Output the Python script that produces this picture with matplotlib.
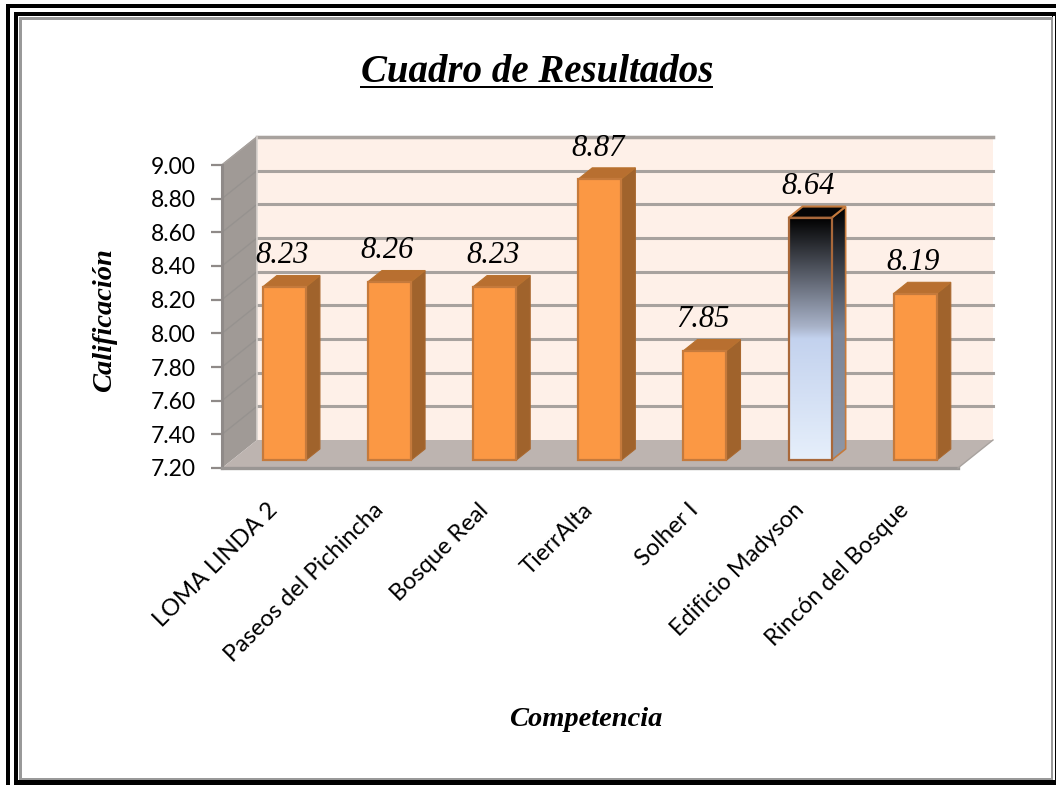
import numpy as np
import matplotlib
matplotlib.use('Agg')
import matplotlib.pyplot as plt
from matplotlib.patches import Polygon, Rectangle
from matplotlib.colors import LinearSegmentedColormap
from matplotlib.transforms import Affine2D

# Data
categories = ['LOMA LINDA 2', 'Paseos del Pichincha', 'Bosque Real', 'TierrAlta',
              'Solher I', 'Edificio Madyson', 'Rincón del Bosque']
values = [8.23, 8.26, 8.23, 8.87, 7.85, 8.64, 8.19]
value_labels = ['8.23', '8.26', '8.23', '8.87', '7.85', '8.64', '8.19']
y_ticks = [7.2, 7.4, 7.6, 7.8, 8.0, 8.2, 8.4, 8.6, 8.8, 9.0]
title = 'Cuadro de Resultados'
x_title = 'Competencia'
y_title = 'Calificación'

W, H = 1056, 785
script_font = dict(family='Liberation Serif', style='italic', weight='bold')

fig = plt.figure(figsize=(W / 100, H / 100), dpi=100, facecolor='white')
ax = fig.add_axes([222 / W, (H - 468) / H, 736 / W, 303 / H])
ax.set_xlim(-0.5, 6.5)
ax.set_ylim(7.2, 9.0)
ax.patch.set_visible(False)
for s in ax.spines.values():
    s.set_visible(False)

# depth of the fake 3d box, in data units
dx = 35 / (736 / 7)
dy = 28 / (303 / 1.8)
xmin, xmax = -0.5, 6.5
ymin, ymax = 7.2, 9.0


def poly(pts, color, z, edge='none', lw=0):
    ax.add_patch(Polygon(pts, closed=True, facecolor=color, edgecolor=edge,
                         linewidth=lw, zorder=z, clip_on=False))


# back wall, side wall, floor
poly([(xmin + dx, ymin + dy), (xmax + dx, ymin + dy), (xmax + dx, ymax + dy), (xmin + dx, ymax + dy)], '#fef0e8', 1)
poly([(xmin, ymin), (xmin + dx, ymin + dy), (xmin + dx, ymax + dy), (xmin, ymax)], '#a09a96', 1)
poly([(xmin, ymin), (xmax, ymin), (xmax + dx, ymin + dy), (xmin + dx, ymin + dy)], '#bdb4b0', 2)

# grid lines
for t in y_ticks[1:]:
    ax.plot([xmin + dx, xmax + dx], [t + dy, t + dy], color='#a8a29e', lw=2.2, zorder=1.5, clip_on=False)
    ax.plot([xmin, xmin + dx], [t, t + dy], color='#96928f', lw=1.0, zorder=1.5, clip_on=False)
ax.plot([xmin + dx, xmax + dx], [ymax + dy, ymax + dy], color='#a8a29e', lw=2.5, zorder=1.5, clip_on=False)
ax.plot([xmin, xmin + dx], [ymax, ymax + dy], color='#a8a29e', lw=1.2, zorder=1.5, clip_on=False)
ax.plot([xmin + dx, xmin + dx], [ymin + dy, ymax + dy], color='#d8d2ce', lw=1.2, zorder=1.5, clip_on=False)
ax.plot([xmin, xmin], [ymin, ymax], color='#8f8a88', lw=2.2, zorder=3, clip_on=False)
ax.plot([xmin, xmax], [ymin, ymin], color='#9a9694', lw=2.4, zorder=3, clip_on=False)
ax.plot([xmax, xmax + dx], [ymin, ymin + dy], color='#a8a29e', lw=1.0, zorder=3, clip_on=False)

# bars
x = np.arange(len(categories))
bar_w = 0.41
d0, d1 = 0.28, 0.68
front = Affine2D().translate(d0 * dx, d0 * dy) + ax.transData
edge = '#c57a3c'
grad_front = LinearSegmentedColormap.from_list('gf', [(0, '#000000'), (0.45, '#a8b2c8'), (0.5, '#c3d2ee'), (1, '#e6effb')])
grad_side = LinearSegmentedColormap.from_list('gs', [(0, '#000000'), (0.5, '#7b8598'), (1, '#8f97a6')])
ramp = np.linspace(0, 1, 256).reshape(-1, 1)

for i, v in enumerate(values):
    l = x[i] - bar_w / 2 + d0 * dx
    r = x[i] + bar_w / 2 + d0 * dx
    b = ymin + d0 * dy
    t = v + d0 * dy
    ddx = (d1 - d0) * dx
    ddy = (d1 - d0) * dy
    side = [(r, b), (r + ddx, b + ddy), (r + ddx, t + ddy), (r, t)]
    top = [(l, t), (r, t), (r + ddx, t + ddy), (l + ddx, t + ddy)]
    if i == 5:
        poly(side, 'none', 4, edge, 1.2)
        im = ax.imshow(ramp, cmap=grad_side, aspect='auto', extent=(r, r + ddx, b, t + ddy), zorder=3.5)
        im.set_clip_path(Polygon(side, transform=ax.transData))
        poly(top, '#050505', 4, edge, 1.5)
        ax.imshow(ramp, cmap=grad_front, aspect='auto', extent=(l, r, b, t), zorder=4.5, clip_on=False)
        ax.add_patch(Rectangle((l, b), r - l, t - b, fill=False, edgecolor='#a9683a', lw=1.6, zorder=5, clip_on=False))
    else:
        poly(side, '#a0632c', 4, '#a9682f', 0.8)
        poly(top, '#b86f30', 4, '#b8722f', 0.8)

colors = ['none' if i == 5 else '#fb9844' for i in range(len(values))]
edges = ['none' if i == 5 else edge for i in range(len(values))]
ax.bar(x, np.array(values) - ymin, width=bar_w, bottom=ymin, color=colors, edgecolor=edges,
       linewidth=1.6, transform=front, zorder=5, clip_on=False)

# value labels
for i, v in enumerate(values):
    ax.annotate(value_labels[i], (x[i], v), xytext=(-2, 31), textcoords='offset pixels',
                xycoords=front, ha='center', va='center', fontsize=22, zorder=6,
                family='Liberation Serif', style='italic', color='black')

ax.set_xlim(xmin, xmax)
ax.set_ylim(ymin, ymax)

# axes ticks
ax.set_yticks(y_ticks)
ax.set_yticklabels(['%.2f' % t for t in y_ticks], fontsize=16.5, family='Lato')
ax.tick_params(axis='y', length=8, width=1.6, color='#8f8a88', pad=11)
ax.set_xticks(x)
ax.set_xticklabels(categories, rotation=45, ha='right', va='center', rotation_mode='anchor', fontsize=17, family='Lato')
ax.tick_params(axis='x', length=0, pad=28)

# titles
t = fig.text(537 / W, 1 - 72 / H, title, ha='center', va='center', fontsize=28, **script_font)
fig.add_artist(Rectangle((360 / W, 1 - 88 / H), 353 / W, 2.5 / H, transform=fig.transFigure, color='black', lw=0))
fig.text(586 / W, 1 - 720 / H, x_title, ha='center', va='center', fontsize=20.5, **script_font)
fig.text(105 / W, 1 - 320 / H, y_title, ha='center', va='center', rotation=90, fontsize=20.5, **script_font)


def frame(x0, y0, x1, y1, color, lw):
    # x0.. in pixels from the top left, band of lw pixels drawn inside
    for r in [(x0, y0, x1 - x0, lw), (x0, y1 - lw, x1 - x0, lw), (x0, y0, lw, y1 - y0), (x1 - lw, y0, lw, y1 - y0)]:
        fig.add_artist(Rectangle((r[0] / W, 1 - (r[1] + r[3]) / H), r[2] / W, r[3] / H,
                                 transform=fig.transFigure, facecolor=color, edgecolor='none'))


frame(6, 4, W + 10, H + 10, 'black', 4)
frame(14, 12, 1056, 785, 'black', 4)
frame(19, 17, 1053, 780, '#999999', 2.5)
fig.add_artist(Rectangle((1053 / W, 0), 2 / W, 1 - 16 / H, transform=fig.transFigure, facecolor='white', edgecolor='none'))
fig.add_artist(Rectangle((1055 / W, 0), 1 / W, 1 - 12 / H, transform=fig.transFigure, facecolor='black', edgecolor='none'))
fig.add_artist(Rectangle((16 / W, 0), 1040 / W, 5 / H, transform=fig.transFigure, facecolor='black', edgecolor='none'))

fig.savefig('out.png', dpi=100)
